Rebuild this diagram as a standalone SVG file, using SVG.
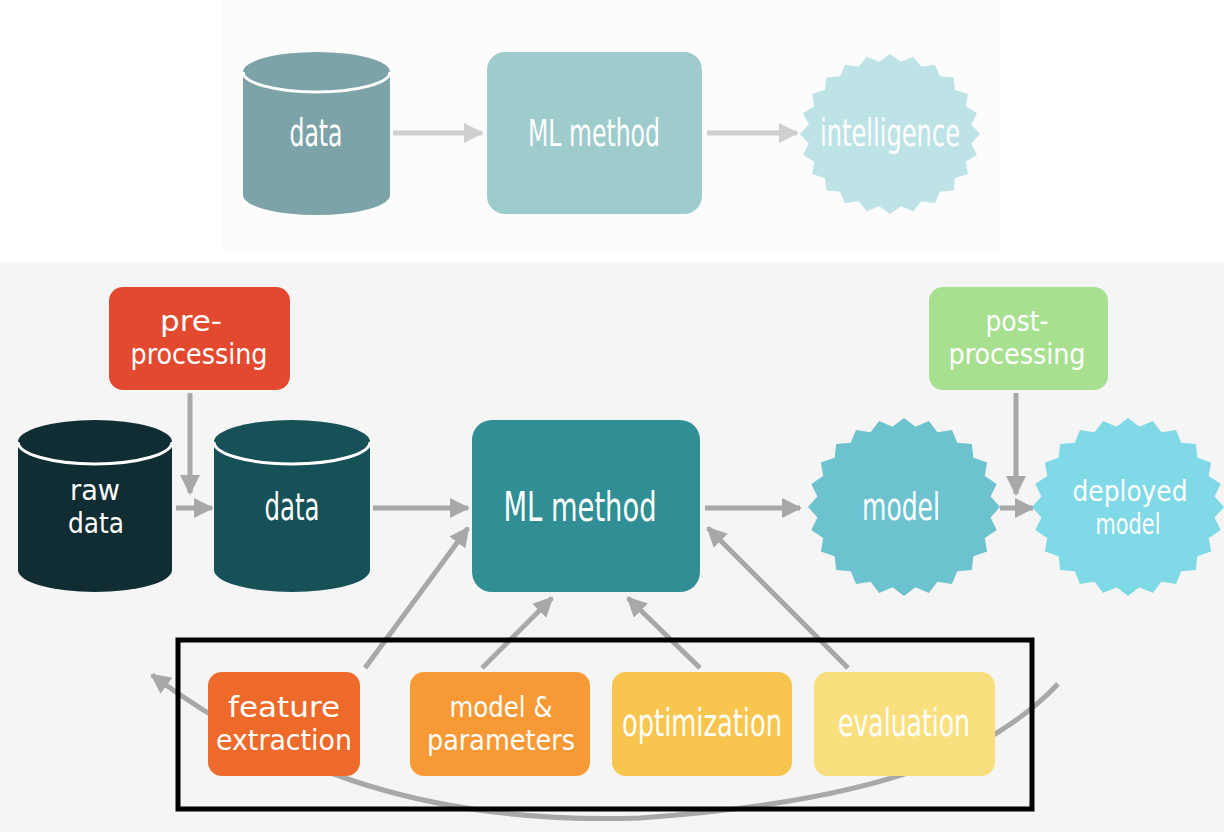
<svg xmlns="http://www.w3.org/2000/svg" width="1224" height="832" viewBox="0 0 1224 832">
<style>
.t{font-family:"DejaVu Sans Condensed","DejaVu Sans",sans-serif;font-stretch:condensed;fill:#ffffff;text-anchor:middle;font-size:37px}
.t2{font-family:"DejaVu Sans Condensed","DejaVu Sans",sans-serif;font-stretch:condensed;fill:#ffffff;text-anchor:middle;font-size:28px}
.a{stroke:#a8a8a8;stroke-width:5;fill:none;marker-end:url(#ah)}
.a2{stroke:#cfcfcf;stroke-width:5;fill:none;marker-end:url(#ah2)}
.rim{fill:none;stroke:#ffffff;stroke-width:3}
</style>
<defs>
<marker id="ah" viewBox="0 0 20 20" refX="18" refY="10" markerWidth="20" markerHeight="20" markerUnits="userSpaceOnUse" orient="auto"><path d="M0,0 L20,10 L0,20 Z" fill="#a8a8a8"/></marker>
<marker id="ah2" viewBox="0 0 20 20" refX="18" refY="10" markerWidth="20" markerHeight="20" markerUnits="userSpaceOnUse" orient="auto"><path d="M0,0 L20,10 L0,20 Z" fill="#cfcfcf"/></marker>
<polygon id="burst" points="100,0 90.2,11.9 96.6,25.9 84.1,34.8 86.6,50 72.2,55.4 70.7,70.7 55.4,72.2 50,86.6 34.8,84.1 25.9,96.6 11.9,90.2 0,100 -11.9,90.2 -25.9,96.6 -34.8,84.1 -50,86.6 -55.4,72.2 -70.7,70.7 -72.2,55.4 -86.6,50 -84.1,34.8 -96.6,25.9 -90.2,11.9 -100,0 -90.2,-11.9 -96.6,-25.9 -84.1,-34.8 -86.6,-50 -72.2,-55.4 -70.7,-70.7 -55.4,-72.2 -50,-86.6 -34.8,-84.1 -25.9,-96.6 -11.9,-90.2 0,-100 11.9,-90.2 25.9,-96.6 34.8,-84.1 50,-86.6 55.4,-72.2 70.7,-70.7 72.2,-55.4 86.6,-50 84.1,-34.8 96.6,-25.9 90.2,-11.9"/>
</defs>
<rect x="0" y="0" width="1224" height="832" fill="#ffffff"/>
<rect x="222" y="0" width="778" height="250" fill="#fcfcfd"/>
<rect x="0" y="262" width="1224" height="570" fill="#f5f5f5"/>

<g id="connectors">
<line class="a2" x1="393" y1="133" x2="482" y2="133"/>
<line class="a2" x1="707" y1="133" x2="797" y2="133"/>
<path d="M1058,684 C1000,745 900,800 640,818 C430,825 280,770 152,675" stroke="#a8a8a8" stroke-width="5" fill="none" marker-end="url(#ah)"/>
<line class="a" x1="190" y1="393" x2="190" y2="493"/>
<line class="a" x1="176" y1="508" x2="212" y2="508"/>
<line class="a" x1="373" y1="508" x2="468" y2="508"/>
<line class="a" x1="705" y1="508" x2="800" y2="508"/>
<line class="a" x1="1016" y1="393" x2="1016" y2="494"/>
<line class="a" x1="1000" y1="508" x2="1033" y2="508"/>
<line class="a" x1="365" y1="668" x2="468" y2="528"/>
<line class="a" x1="482" y1="668" x2="552" y2="598"/>
<line class="a" x1="700" y1="668" x2="628" y2="598"/>
<line class="a" x1="848" y1="668" x2="708" y2="528"/>
</g>

<g id="top-data">
<path d="M243,72 A73.5,20 0 0 1 390,72 V195 A73.5,20 0 0 1 243,195 Z" fill="#7ca3a7"/>
<path class="rim" d="M243,72 A73.5,20 0 0 0 390,72"/>
<text class="t" x="316" y="146" textLength="53" lengthAdjust="spacingAndGlyphs">data</text>
</g>
<g id="top-ml">
<rect x="487" y="52" width="215" height="162" rx="18" fill="#9ecbcc"/>
<text class="t" x="594" y="146" textLength="132" lengthAdjust="spacingAndGlyphs">ML method</text>
</g>
<g id="top-intelligence">
<use href="#burst" transform="translate(890,134) scale(0.9,0.8)" fill="#bde3e6"/>
<text class="t" x="890" y="146" textLength="140" lengthAdjust="spacingAndGlyphs">intelligence</text>
</g>

<g id="pre-processing">
<rect x="109" y="287" width="181" height="103" rx="14" fill="#e2492f"/>
<text class="t2" x="191" y="331" textLength="62" lengthAdjust="spacingAndGlyphs">pre-</text>
<text class="t2" x="199" y="364" textLength="137" lengthAdjust="spacingAndGlyphs">processing</text>
</g>
<g id="raw-data">
<path d="M18,442 A77,22 0 0 1 172,442 V570 A77,22 0 0 1 18,570 Z" fill="#102d33"/>
<path class="rim" d="M18,442 A77,22 0 0 0 172,442"/>
<text class="t2" x="95" y="500" textLength="50" lengthAdjust="spacingAndGlyphs">raw</text>
<text class="t2" x="96" y="533" textLength="56" lengthAdjust="spacingAndGlyphs">data</text>
</g>
<g id="data">
<path d="M214,442 A78,22 0 0 1 370,442 V570 A78,22 0 0 1 214,570 Z" fill="#155157"/>
<path class="rim" d="M214,442 A78,22 0 0 0 370,442"/>
<text class="t" x="292" y="520" textLength="55" lengthAdjust="spacingAndGlyphs">data</text>
</g>
<g id="ml-method">
<rect x="472" y="420" width="228" height="172" rx="20" fill="#2f8f95"/>
<text class="t" x="580" y="521" textLength="153" lengthAdjust="spacingAndGlyphs" style="font-size:40px">ML method</text>
</g>
<g id="model">
<use href="#burst" transform="translate(904,507) scale(0.96,0.89)" fill="#6cc3cf"/>
<text class="t" x="901" y="520" textLength="78" lengthAdjust="spacingAndGlyphs">model</text>
</g>
<g id="post-processing">
<rect x="929" y="287" width="179" height="103" rx="14" fill="#a7e08f"/>
<text class="t2" x="1017" y="331" textLength="63" lengthAdjust="spacingAndGlyphs">post-</text>
<text class="t2" x="1017" y="364" textLength="137" lengthAdjust="spacingAndGlyphs">processing</text>
</g>
<g id="deployed-model">
<use href="#burst" transform="translate(1128,507) scale(0.96,0.89)" fill="#80d9e6"/>
<text class="t2" x="1130" y="501" textLength="115" lengthAdjust="spacingAndGlyphs">deployed</text>
<text class="t2" x="1128" y="534" textLength="65" lengthAdjust="spacingAndGlyphs">model</text>
</g>

<g id="frame">
<rect x="178" y="640" width="854" height="169" fill="none" stroke="#000000" stroke-width="5"/>
</g>
<g id="feature-extraction">
<rect x="208" y="672" width="152" height="104" rx="14" fill="#ee6a2a"/>
<text class="t2" x="284" y="717" textLength="112" lengthAdjust="spacingAndGlyphs">feature</text>
<text class="t2" x="284" y="750" textLength="136" lengthAdjust="spacingAndGlyphs">extraction</text>
</g>
<g id="model-parameters">
<rect x="410" y="672" width="180" height="104" rx="14" fill="#f79a36"/>
<text class="t2" x="501" y="717" textLength="103" lengthAdjust="spacingAndGlyphs">model &amp;</text>
<text class="t2" x="501" y="750" textLength="148" lengthAdjust="spacingAndGlyphs">parameters</text>
</g>
<g id="optimization">
<rect x="612" y="672" width="180" height="104" rx="14" fill="#f8c54e"/>
<text class="t" x="702" y="736" textLength="160" lengthAdjust="spacingAndGlyphs">optimization</text>
</g>
<g id="evaluation">
<rect x="814" y="672" width="181" height="104" rx="14" fill="#f9df7d"/>
<text class="t" x="904" y="736" textLength="132" lengthAdjust="spacingAndGlyphs">evaluation</text>
</g>
</svg>
